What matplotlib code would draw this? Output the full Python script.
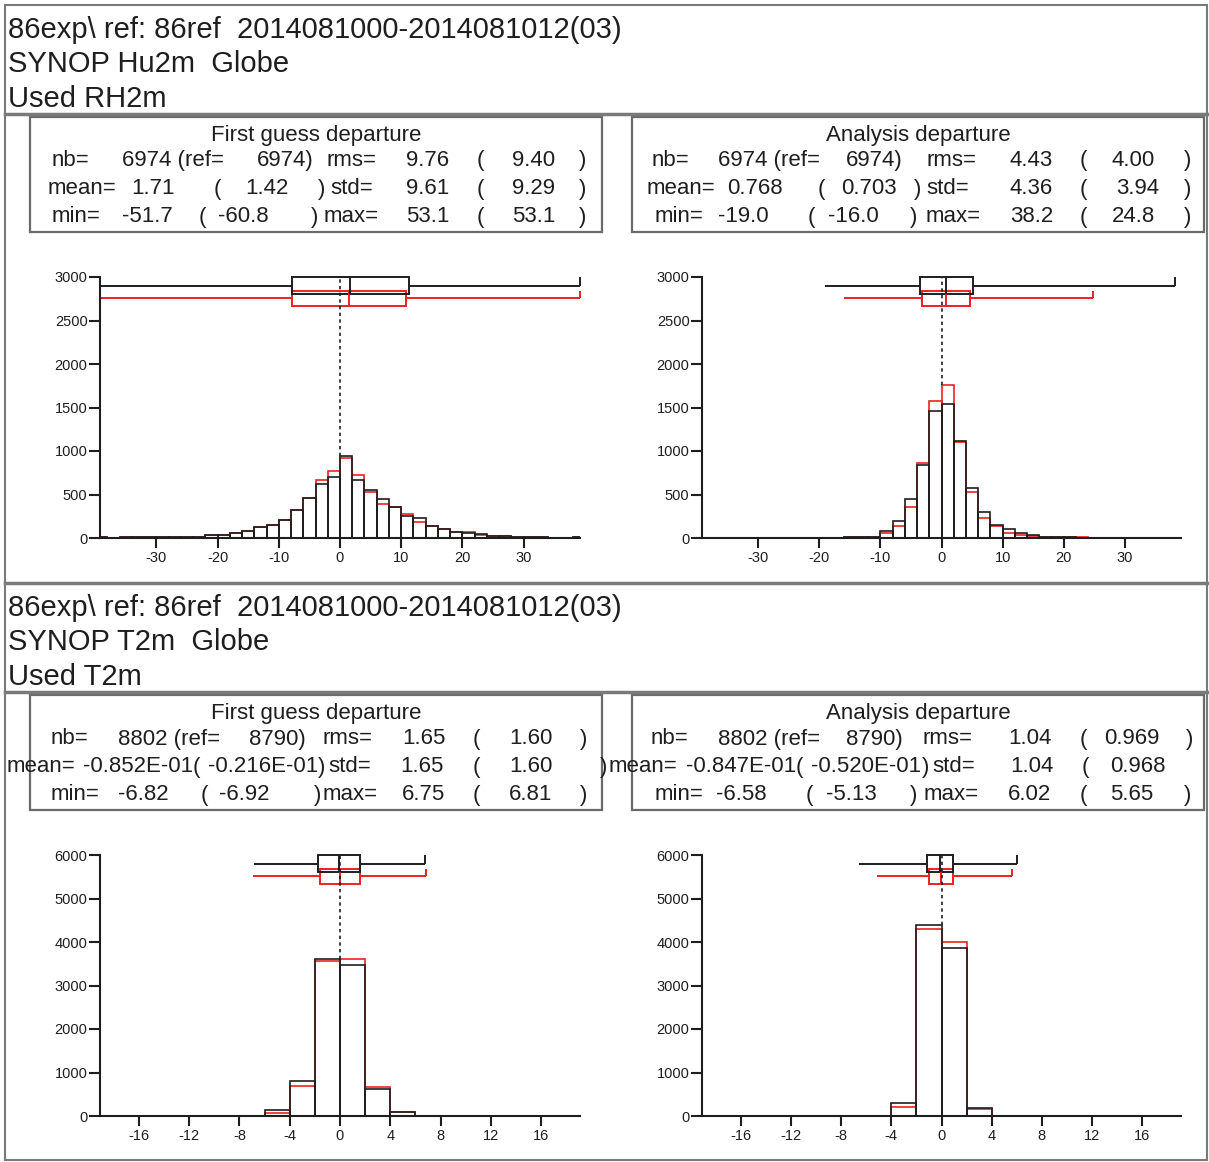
import numpy as np
import matplotlib
matplotlib.use('Agg')
import matplotlib.pyplot as plt
from matplotlib.patches import Rectangle
from matplotlib.lines import Line2D

plt.rcParams['font.family'] = ['Liberation Sans', 'DejaVu Sans']
plt.rcParams['axes.unicode_minus'] = False

W, H = 1209, 1162

# ---------------- data ----------------
header_line1 = "86exp\\ ref: 86ref  2014081000-2014081012(03)"
hu_title = ["SYNOP Hu2m  Globe", "Used RH2m"]
t2_title = ["SYNOP T2m  Globe", "Used T2m"]

# bin edges (left) for the histograms, width 2
hu_bins = list(range(-40, 40, 2))
t2_bins = list(range(-20, 20, 2))

hu_fg_exp = [12, 0, 8, 8, 9, 10, 10, 12, 14, 31, 34, 57, 77, 126, 146, 211, 318, 464, 617, 701,
             943, 663, 548, 444, 356, 249, 230, 138, 100, 69, 62, 50, 27, 19, 8, 7, 6, 5, 5, 6]
hu_fg_ref = [12, 0, 8, 8, 9, 10, 10, 12, 14, 31, 34, 57, 77, 126, 146, 211, 318, 464, 663, 770,
             923, 728, 529, 395, 356, 272, 184, 138, 100, 69, 68, 40, 27, 27, 8, 7, 6, 5, 5, 6]
hu_an_exp = [0, 0, 0, 0, 0, 0, 0, 0, 0, 0, 0, 2, 8, 10, 12, 80, 192, 444, 835, 1460,
             1544, 1115, 575, 299, 146, 103, 61, 38, 12, 10, 8, 5, 2, 1, 1, 0, 0, 1, 0, 1]
hu_an_ref = [0, 0, 0, 0, 0, 0, 0, 0, 0, 0, 0, 0, 8, 10, 12, 61, 138, 356, 862, 1571,
             1762, 1103, 529, 230, 134, 57, 31, 20, 10, 8, 8, 12, 1, 0, 0, 0, 0, 0, 0, 0]

t2_fg_exp = [0, 0, 0, 0, 0, 0, 2, 131, 794, 3608, 3470, 617, 93, 3, 0, 0, 0, 0, 0, 0]
t2_fg_ref = [0, 0, 0, 0, 0, 0, 3, 77, 694, 3562, 3608, 656, 90, 2, 0, 0, 0, 0, 0, 0]
t2_an_exp = [0, 0, 0, 0, 0, 0, 0, 4, 308, 4395, 3855, 177, 2, 0, 0, 0, 0, 0, 0, 0]
t2_an_ref = [0, 0, 0, 0, 0, 0, 0, 2, 208, 4295, 4009, 170, 1, 0, 0, 0, 0, 0, 0, 0]

# nb, nb_ref, rms, rms_ref, mean, mean_ref, std, std_ref, min, min_ref, max, max_ref
hu_fg_stats = [6974, 6974, 9.76, 9.40, 1.71, 1.42, 9.61, 9.29, -51.7, -60.8, 53.1, 53.1]
hu_an_stats = [6974, 6974, 4.43, 4.00, 0.768, 0.703, 4.36, 3.94, -19.0, -16.0, 38.2, 24.8]
t2_fg_stats = [8802, 8790, 1.65, 1.60, -0.0852, -0.0216, 1.65, 1.60, -6.82, -6.92, 6.75, 6.81]
t2_an_stats = [8802, 8790, 1.04, 0.969, -0.0847, -0.0520, 1.04, 0.968, -6.58, -5.13, 6.02, 5.65]

hu_xticks = [-30, -20, -10, 0, 10, 20, 30]
hu_yticks = [0, 500, 1000, 1500, 2000, 2500, 3000]
t2_xticks = [-16, -12, -8, -4, 0, 4, 8, 12, 16]
t2_yticks = [0, 1000, 2000, 3000, 4000, 5000, 6000]

BLACK = '#1e1e1e'
RED = '#f02020'
GRAY = '#7a7a7a'


def fx(x):
    return x / W


def fy(y):
    return 1 - y / H


def fmt(v):
    if abs(v) < 0.1:
        return f"{v * 10:.3f}E-01"
    d = max(0, 2 - int(np.floor(np.log10(abs(v)))))
    return f"{v:.{d}f}"


def stat_tokens(s):
    nb = ["nb=", f"{s[0]} (ref=", f"{s[1]})", "rms=", fmt(s[2]), "(", fmt(s[3]), ")"]
    mean = ["mean=", fmt(s[4]), "(", fmt(s[5]), ")", "std=", fmt(s[6]), "(", fmt(s[7]), ")"]
    mn = ["min=", fmt(s[8]), "(", fmt(s[9]), ")", "max=", fmt(s[10]), "(", fmt(s[11]), ")"]
    return [nb, mean, mn]


# x pixel position of each token (None = falls outside the picture)
pos_hu_fg = [[52, 122, 257, 326, 406, 477, 512, 579],
             [48, 131, 214, 245, 318, 330, 406, 477, 512, 579],
             [52, 122, 199, 218, 311, 324, 406, 477, 512, 579]]
pos_hu_an = [[652, 718, 846, 926, 1010, 1080, 1112, 1184],
             [647, 727, 818, 841, 914, 926, 1010, 1080, 1116, 1184],
             [655, 718, 808, 828, 910, 926, 1010, 1080, 1112, 1184]]
pos_t2_fg = [[51, 118, 249, 323, 402, 473, 509, 580],
             [7, 83, 193, 208, 318, 328, 400, 473, 509, 600],
             [51, 118, 201, 219, 314, 323, 402, 473, 509, 580]]
pos_t2_an = [[651, 718, 846, 922, 1008, 1080, 1104, 1186],
             [609, 686, 796, 811, 922, 932, 1010, 1082, 1110, None],
             [655, 716, 806, 826, 910, 924, 1008, 1080, 1110, 1184]]


fig = plt.figure(figsize=(W / 100, H / 100), dpi=100)


def fig_line(x0, y0, x1, y1, lw=1.5, color=GRAY):
    fig.add_artist(Line2D([fx(x0), fx(x1)], [fy(y0), fy(y1)], color=color, lw=lw,
                          transform=fig.transFigure))


def fig_rect(x0, y0, x1, y1, lw=1.5, color=GRAY):
    fig.add_artist(Rectangle((fx(x0), fy(y1)), fx(x1) - fx(x0), fy(y0) - fy(y1), fill=False,
                             ec=color, lw=lw, transform=fig.transFigure))


def draw_box(ax, mean, std, vmin, vmax, ylo, yhi, ywh, color, xlim):
    q1, q3 = mean - std, mean + std
    lo, hi = max(vmin, xlim[0]), min(vmax, xlim[1])
    kw = dict(color=color, lw=1.4, clip_on=False, solid_capstyle='butt')
    ax.add_patch(Rectangle((q1, ylo), q3 - q1, yhi - ylo, fill=False, ec=color, lw=1.4,
                           clip_on=False))
    ax.plot([mean, mean], [ylo, yhi], **kw)
    ax.plot([lo, q1], [ywh, ywh], **kw)
    ax.plot([q3, hi], [ywh, ywh], **kw)
    ax.plot([hi, hi], [ywh, yhi], **kw)


def hist_panel(rect, bins, exp, ref, stats, xlim, xticks, yticks):
    ax = fig.add_axes(rect)
    ytop = yticks[-1]
    ax.bar(bins, ref, width=2, align='edge', fill=False, edgecolor=RED, lw=1.2)
    ax.bar(bins, exp, width=2, align='edge', fill=False, edgecolor=BLACK, lw=1.2)
    # boxes: mean +/- std, whiskers to min / max
    draw_box(ax, stats[5], stats[7], stats[9], stats[11],
             0.889 * ytop, 0.947 * ytop, 0.919 * ytop, RED, xlim)
    draw_box(ax, stats[4], stats[6], stats[8], stats[10],
             0.935 * ytop, 1.0 * ytop, 0.966 * ytop, BLACK, xlim)
    i0 = bins.index(0)
    peak = max(exp[i0 - 1], exp[i0], ref[i0 - 1], ref[i0])
    ax.plot([0, 0], [peak, ytop], color=BLACK, lw=1.2, ls=(0, (2, 2)), clip_on=False)
    ax.set_xlim(*xlim)
    ax.set_ylim(0, ytop)
    ax.set_xticks(xticks)
    ax.set_yticks(yticks)
    for s in ['top', 'right']:
        ax.spines[s].set_visible(False)
    for s in ['left', 'bottom']:
        ax.spines[s].set_linewidth(1.5)
        ax.spines[s].set_color(BLACK)
    ax.tick_params(axis='y', direction='out', length=8, width=1.5, labelsize=10.5, pad=1,
                   colors=BLACK)
    ax.tick_params(axis='x', direction='out', length=7, width=1.5, labelsize=10.5, pad=2,
                   colors=BLACK)
    ax.patch.set_visible(False)
    return ax


def stat_box(x0, x1, off, title, stats, positions):
    fig_rect(x0, 117 + off, x1, 232 + off, lw=1.6, color='#6a6a6a')
    fig.text(fx((x0 + x1) / 2), fy(135 + off), title, ha='center', va='center', fontsize=16,
             color=BLACK)
    rows_y = [161, 189, 217]
    for toks, xs, ry in zip(stat_tokens(stats), positions, rows_y):
        for t, x in zip(toks, xs):
            if x is None:
                continue
            fig.text(fx(x), fy(ry + off), t, ha='left', va='center', fontsize=16, color=BLACK)


def panel(off, titles, fg_stats, an_stats, pos_fg, pos_an, bins, fg_exp, fg_ref, an_exp, an_ref,
          xlim, xticks, yticks):
    # header
    fig_line(5, 114 + off, 1207, 114 + off, lw=2.5)
    for t, y in zip([header_line1] + titles, [30, 64, 99]):
        fig.text(fx(8), fy(y + off), t, ha='left', va='center', fontsize=21, color=BLACK)
    stat_box(30, 602, off, "First guess departure", fg_stats, pos_fg)
    stat_box(632, 1204, off, "Analysis departure", an_stats, pos_an)
    h = (538 - 277) / H
    hist_panel([fx(100), fy(538 + off), (580 - 100) / W, h], bins, fg_exp, fg_ref, fg_stats,
               xlim, xticks, yticks)
    hist_panel([fx(702), fy(538 + off), (1181 - 702) / W, h], bins, an_exp, an_ref, an_stats,
               xlim, xticks, yticks)


panel(0, hu_title, hu_fg_stats, hu_an_stats, pos_hu_fg, pos_hu_an, hu_bins,
      hu_fg_exp, hu_fg_ref, hu_an_exp, hu_an_ref, (-39.2, 39.2), hu_xticks, hu_yticks)
panel(578, t2_title, t2_fg_stats, t2_an_stats, pos_t2_fg, pos_t2_an, t2_bins,
      t2_fg_exp, t2_fg_ref, t2_an_exp, t2_an_ref, (-19.1, 19.1), t2_xticks, t2_yticks)

# outer frame and panel divider
fig_rect(5, 5, 1207, 1160, lw=1.5)
fig_line(5, 583, 1207, 583, lw=2.5)

fig.savefig('out.png', dpi=100)
